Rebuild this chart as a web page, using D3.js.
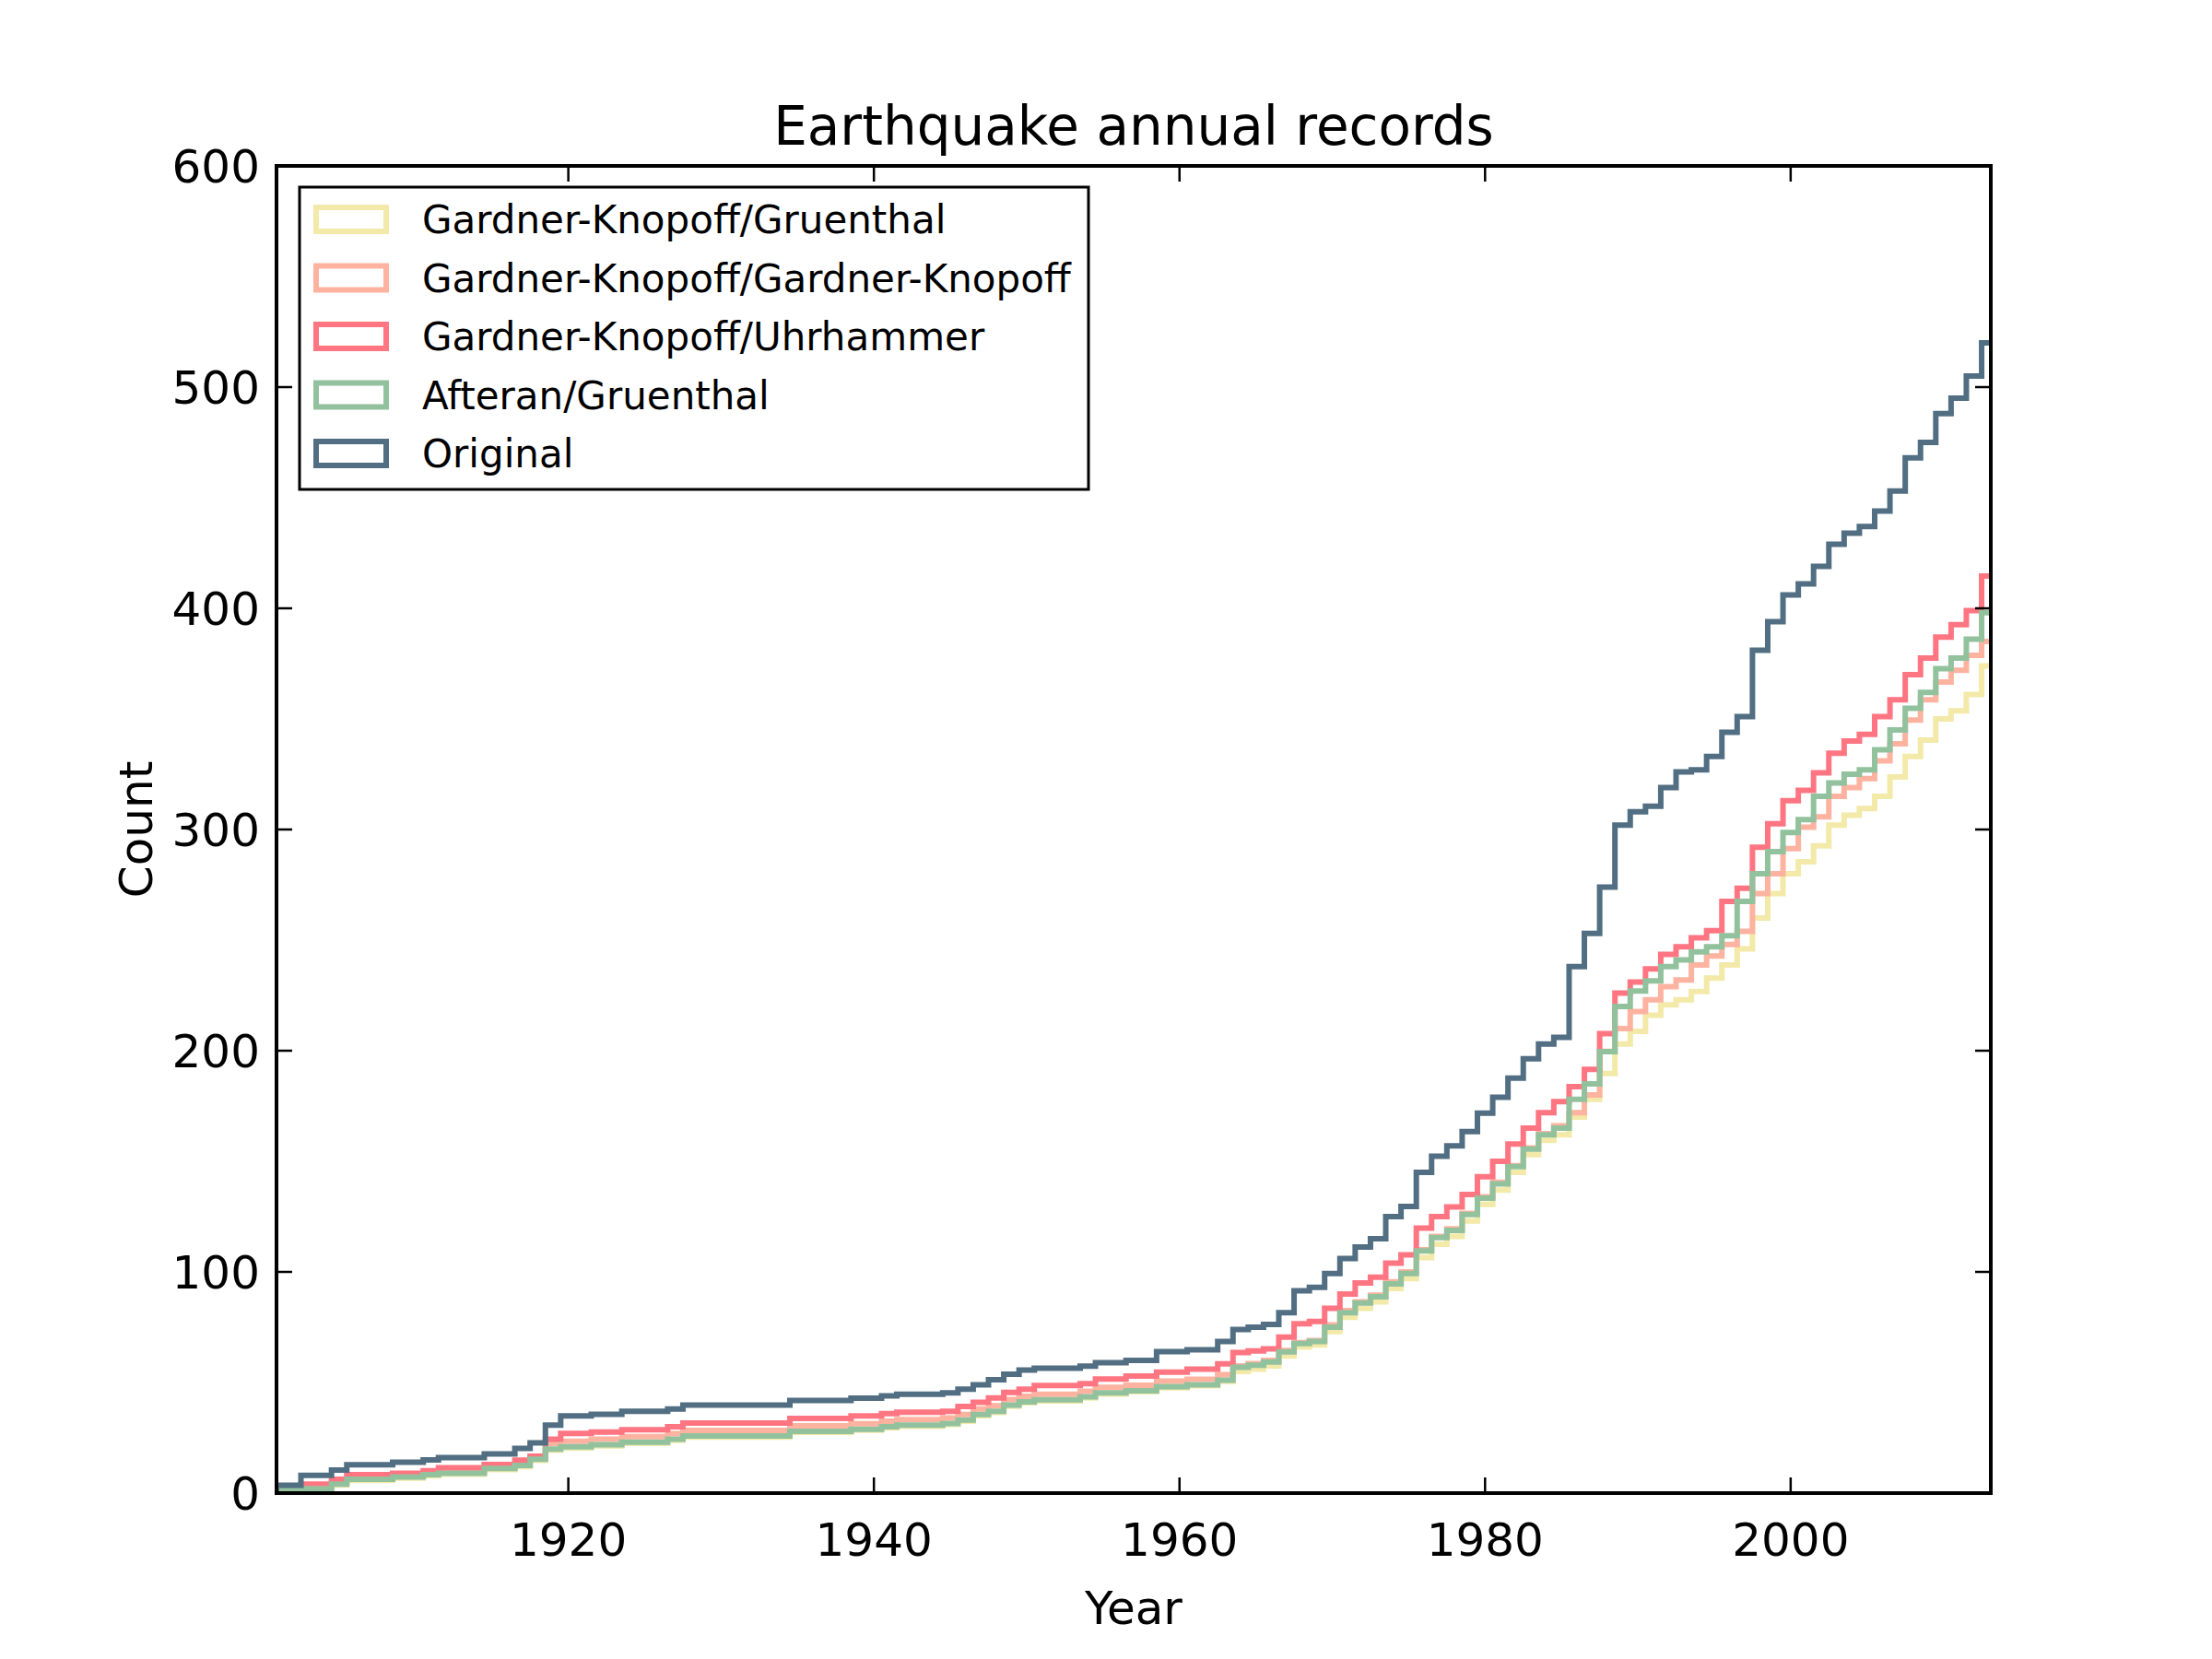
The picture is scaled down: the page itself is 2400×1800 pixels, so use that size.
<!DOCTYPE html>
<html><head><meta charset="utf-8">
<script src="https://cdn.jsdelivr.net/npm/d3@7/dist/d3.min.js"></script>
<style>body{margin:0;background:#fff}text{font-family:"DejaVu Sans",sans-serif}</style>
</head><body><svg id="c" width="2400" height="1800"></svg>
<script>
const years = d3.range(1901, 2014);
const original = [3.5,3.5,8,8,10.4,12.8,12.8,12.8,14,14,
15,16,16,16,17.7,17.7,20.2,22.7,30.7,34.9,
34.9,35.6,35.6,37,37,37,38,39.8,39.8,39.8,
39.8,39.8,39.8,39.8,41.9,41.9,41.9,41.9,42.9,42.9,
44,44.7,44.7,44.7,45.3,47,49,51.3,53.7,55.6,
56.5,56.5,56.5,57.4,59,59,60,60,64,64,
64.8,64.8,68.5,74,75,76.3,81.6,91.5,93,99.3,
106,111.3,115,125,129.6,145,152.3,157,163.4,171.8,
179,187.6,196.4,203,206,238,253,274,302,308,
310.5,319,326,327,333,344,351,381,394,406,
411,419,429,434,437,444,453,468,475,488,
495,505,520];
const gkUhrhammer = [2.7,2.7,4.1,4.1,6.2,8.3,8.3,8.3,9,9,
10.1,11.5,11.5,11.5,12.9,12.9,14.9,16.7,24.4,27,
27,27.6,27.6,28.6,28.6,28.6,30,31.7,31.7,31.7,
31.7,31.7,31.7,31.7,33.8,33.8,33.8,33.8,34.9,34.9,
35.9,36.6,36.6,36.6,37,39.2,41,43,45.5,47,
48.6,48.6,48.6,49.5,51.6,51.6,52.9,52.9,54.7,54.7,
56,56,58.4,63.5,64.3,65.2,70.5,76.6,77.6,83.5,
90,95,97.6,104,107.7,119.8,125,129.4,135,143,
150,157.8,165,172,177,183.7,191.6,207.7,226,231,
237,243.5,247,251,254.3,267.5,273.4,292,302.6,313,
317.7,325.6,334.5,340,343,351,358.6,370,377.5,387,
392.6,399,414.6];
const afteranGruenthal = [1.5,1.5,2,2,4.1,6.2,6.2,6.2,7.3,7.3,
8.3,9,9,9,11.1,11.1,12.5,15.3,19.9,20.9,
20.9,21.9,21.9,23,23,23,24.4,25.8,25.8,25.8,
25.8,25.8,25.8,25.8,27.9,27.9,27.9,27.9,28.9,28.9,
30,30.7,30.7,30.7,31.5,33,35.5,37,39.8,41.3,
42.2,42.2,42.2,43.5,45.3,45.3,46.3,46.3,48.1,48.1,
49,49,51,56.9,57.8,59.3,63.9,67.6,68.5,75,
81.6,85.9,88.7,94.6,99.3,109.5,115.5,118.8,125.9,133.3,
139.8,147.6,155.5,162,165,178,185,199.6,220,227,
231.6,238,241,244.7,247,252,267.5,280,290,298.6,
304.5,315,321,325,327,336,345,354.8,362,372.7,
377.5,386,398];
const gkGardnerKnopoff = [2,2,2.5,2.5,4.6,6.7,6.7,6.7,7.8,7.8,
8.8,9.5,9.5,9.5,11.6,11.6,13,15.8,22.4,23.4,
23.4,24.4,24.4,25.5,25.5,25.5,26.9,28.3,28.3,28.3,
28.3,28.3,28.3,28.3,30.4,30.4,30.4,30.4,31.4,31.4,
32.5,33.2,33.2,33.2,34,35.5,38,39.5,42.3,43.8,
44.7,44.7,44.7,46,47.8,47.8,48.8,48.8,50.6,50.6,
51.5,51.5,53.5,57.5,58.5,60,64.5,68,69,76,
82.5,86.5,89.5,95.5,100,110,116,119.5,126.5,134,
140.5,148,156,162.5,166,172,180,199.7,210,217.7,
223,229,232,238.8,242.8,248,254,271,280,291.4,
301,305.7,315,319,323,331,338.7,349.5,358.6,366.7,
372,378.7,385];
const gkGruenthal = [1,1,1.5,1.5,3.6,5.7,5.7,5.7,6.8,6.8,
7.8,8.5,8.5,8.5,10.6,10.6,12,14.8,19.4,20.4,
20.4,21.4,21.4,22.5,22.5,22.5,23.9,25.3,25.3,25.3,
25.3,25.3,25.3,25.3,27.4,27.4,27.4,27.4,28.4,28.4,
29.5,30.2,30.2,30.2,31,32.5,35,36.5,39.3,40.8,
41.7,41.7,41.7,43,44.8,44.8,45.8,45.8,47.6,47.6,
48.5,48.5,50.5,55,56,57.5,62,66,67,73,
79.5,83.5,86.5,92.5,97,106.5,112.5,116,123,130.5,
137,145,153,159.5,162,170,178,189.7,203,208.8,
216,220.7,223,226.8,232.8,238.8,246,260,271,280,
285.4,292.6,302,306.5,309.5,315,323.7,333,340.4,350,
353.6,361,374];
const seriesNames = ["Gardner-Knopoff/Gruenthal","Gardner-Knopoff/Gardner-Knopoff","Gardner-Knopoff/Uhrhammer","Afteran/Gruenthal","Original"];
const seriesValues = [gkGruenthal, gkGardnerKnopoff, gkUhrhammer, afteranGruenthal, original];
const seriesColors = ["#f3e9a8","#fdb3a0","#ff7582","#92c29d","#516e82"];
const xTicks = [1920,1940,1960,1980,2000];
const yTicks = [0,100,200,300,400,500,600];

const svg = d3.select("#c");
const L=300,R=2160,T=180,B=1620;
const x = d3.scaleLinear().domain([1900.9,2013.1]).range([L,R]);
const y = d3.scaleLinear().domain([0,600]).range([B,T]);

svg.append("defs").append("clipPath").attr("id","clip").append("rect")
  .attr("x",L).attr("y",T).attr("width",R-L).attr("height",B-T);

const g = svg.append("g").attr("clip-path","url(#clip)");
seriesValues.forEach((vals,i)=>{
  const pts=[[x.domain()[0],0]];
  vals.forEach((v,j)=>{
    const a=Math.max(years[j]-0.5,x.domain()[0]), b=Math.min(years[j]+0.5,x.domain()[1]);
    pts.push([a,v]); pts.push([b,v]);
  });
  g.append("path").attr("d",d3.line().x(d=>x(d[0])).y(d=>y(d[1]))(pts))
   .attr("fill","none").attr("stroke",seriesColors[i]).attr("stroke-width",6)
   .attr("stroke-linejoin","miter");
});

// frame
svg.append("rect").attr("x",L).attr("y",T).attr("width",R-L).attr("height",B-T)
  .attr("fill","none").attr("stroke","#000").attr("stroke-width",4);

const tl=17;
xTicks.forEach(t=>{
  svg.append("line").attr("x1",x(t)).attr("x2",x(t)).attr("y1",B).attr("y2",B-tl).attr("stroke","#000").attr("stroke-width",2.5);
  svg.append("line").attr("x1",x(t)).attr("x2",x(t)).attr("y1",T).attr("y2",T+tl).attr("stroke","#000").attr("stroke-width",2.5);
  svg.append("text").attr("x",x(t)).attr("y",B+68).attr("text-anchor","middle").attr("font-size",50).text(t);
});
yTicks.forEach(t=>{
  svg.append("line").attr("x1",L).attr("x2",L+tl).attr("y1",y(t)).attr("y2",y(t)).attr("stroke","#000").attr("stroke-width",2.5);
  svg.append("line").attr("x1",R).attr("x2",R-tl).attr("y1",y(t)).attr("y2",y(t)).attr("stroke","#000").attr("stroke-width",2.5);
  svg.append("text").attr("x",L-18).attr("y",y(t)+18).attr("text-anchor","end").attr("font-size",50).text(t);
});

svg.append("text").attr("x",(L+R)/2).attr("y",157).attr("text-anchor","middle").attr("font-size",58).text("Earthquake annual records");
svg.append("text").attr("x",(L+R)/2).attr("y",1762).attr("text-anchor","middle").attr("font-size",50).text("Year");
svg.append("text").attr("transform","translate(165,"+((T+B)/2)+") rotate(-90)").attr("text-anchor","middle").attr("font-size",50).text("Count");

// legend
const lg = svg.append("g");
lg.append("rect").attr("x",325).attr("y",203).attr("width",856).attr("height",328)
  .attr("fill","#fff").attr("stroke","#000").attr("stroke-width",3);
seriesNames.forEach((n,i)=>{
  const cy = 238 + i*63.5;
  lg.append("rect").attr("x",343).attr("y",cy-13).attr("width",76).attr("height",26)
    .attr("fill","none").attr("stroke",seriesColors[i]).attr("stroke-width",6);
  lg.append("text").attr("x",458).attr("y",cy+15).attr("font-size",42).text(n);
});
</script></body></html>
